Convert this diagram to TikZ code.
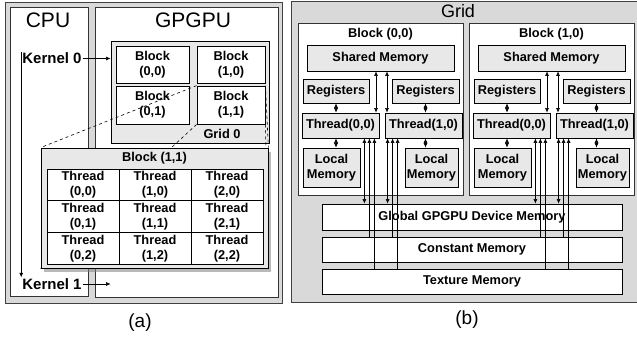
\documentclass[tikz,border=0pt]{standalone}
\usepackage{fontspec}
\setmainfont{Liberation Sans}
\usetikzlibrary{arrows.meta,shadows}
\pgfdeclarelayer{front}
\pgfsetlayers{main,front}

\begin{document}
\begin{tikzpicture}[x=1pt,y=-1pt]

% definitions
\tikzstyle{panel} = [rectangle, inner sep=0pt, draw=black!75, line width=0.8pt, fill=gray!30]

\tikzstyle{unit} = [rectangle, inner sep=0pt, draw=black!80, line width=0.8pt, fill=white]

\tikzstyle{block} = [rectangle, inner sep=0pt, draw=black, line width=0.8pt, fill=white, align=center, font=\bfseries\fontsize{12.8}{15}\selectfont]

\tikzstyle{memory} = [rectangle, inner sep=0pt, draw=black, line width=0.8pt, fill=gray!18, align=center, font=\bfseries\fontsize{12.8}{14.5}\selectfont]

\tikzstyle{label} = [inner sep=1pt, font=\bfseries\fontsize{12.8}{15}\selectfont]

\tikzstyle{kernel} = [inner sep=1pt, font=\bfseries\fontsize{15}{18}\selectfont]

\tikzstyle{title} = [inner sep=1pt, font=\fontsize{21}{25}\selectfont]

\tikzstyle{arrow} = [->, >={Latex[length=4.5pt,width=4pt]}, line width=0.6pt]

\tikzstyle{biarrow} = [<->, >={Latex[length=4.5pt,width=4pt]}, line width=0.6pt]

\tikzstyle{link} = [dashed, line width=0.6pt]

\useasboundingbox (0,0) rectangle (637,339);

% (a) the host and the device
\node (pa) [panel, minimum width=277pt, minimum height=301pt] at (143.5,152.5) {};
\node (cpu) [unit, minimum width=78pt, minimum height=289pt] at (49,151.5) {};
\node (gpu) [unit, minimum width=183pt, minimum height=290pt] at (186.5,152) {};
\node (cpulab) [title] at (48,20) {CPU};
\node (gpulab) [title] at (193,20) {GPGPU};

\node (k0) [kernel] at (52,58.5) {Kernel 0};
\node (k1) [kernel] at (52,284) {Kernel 1};

\node (grid0) [memory, minimum width=158pt, minimum height=102pt] at (190,92) {};
\node (b00) [block, minimum width=73pt, minimum height=37pt] at (152.5,64.5) {Block\\(0,0)};
\node (b10) [block, minimum width=68pt, minimum height=37pt] at (231,64.5) {Block\\(1,0)};
\node (b01) [block, minimum width=73pt, minimum height=38pt] at (152.5,105) {Block\\(0,1)};
\node (b11) [block, minimum width=68pt, minimum height=38pt] at (231,105) {Block\\(1,1)};
\node (g0lab) [label] at (222,134) {Grid 0};

\begin{pgfonlayer}{front}
\node (big) [memory, minimum width=227pt, minimum height=120pt, drop shadow={shadow xshift=3pt, shadow yshift=-4pt, opacity=0.55}] at (154.5,208) {};
\node (biglab) [label] at (154.5,158) {Block (1,1)};
\foreach \i in {0,1,2}
  \foreach \j in {0,1,2}
    \node (t\i\j) [block, minimum width=72pt, minimum height=31.7pt] at ({83+72*\i},{184.8+31.7*\j}) {Thread\\(\i,\j)};
\end{pgfonlayer}

\draw [link] (b11.north west) -- (big.north west);
\draw [link] (b11.south west) -- (big.south west);
\draw [link] (b11.north east) -- (big.north east);
\draw [link] (b11.south east) -- (big.south east);

\draw [arrow] (k0.east) -- (k0.east -| grid0.west);
\draw [arrow] (k1.east) -- (k1.east -| grid0.west);
\draw [arrow] (k0.north west) -- (k0.north west |- k1.north);

\node (capa) [title, font=\fontsize{19}{23}\selectfont] at (140,323) {(a)};

% (b) the memory hierarchy
\node (pb) [panel, minimum width=348pt, minimum height=301pt] at (465,152) {};
\node (gridlab) [title, font=\fontsize{18}{22}\selectfont] at (458,11.5) {Grid};

\node (glob) [unit, draw=black, minimum width=300pt, minimum height=26pt, font=\bfseries\fontsize{12.8}{15}\selectfont] at (472,217) {Global GPGPU Device Memory};
\node (cons) [unit, draw=black, minimum width=300pt, minimum height=25pt, font=\bfseries\fontsize{12.8}{15}\selectfont] at (472,249.5) {Constant Memory};
\node (tex) [unit, draw=black, minimum width=300pt, minimum height=25pt, font=\bfseries\fontsize{12.8}{15}\selectfont] at (472,281.5) {Texture Memory};

\foreach \bi/\dx in {0/0,1/171} {
  \node (blk\bi) [unit, minimum width=165pt, minimum height=172pt] at ({380.5+\dx},109) {};
  \node (blklab\bi) [label] at ({380.5+\dx},34) {Block (\bi,0)};
  \node (shm\bi) [memory, minimum width=147pt, minimum height=26pt] at ({380.5+\dx},58) {Shared Memory};
  \node (regl\bi) [memory, minimum width=66pt, minimum height=24pt] at ({336+\dx},91) {Registers};
  \node (regr\bi) [memory, minimum width=67pt, minimum height=24pt] at ({425.5+\dx},91) {Registers};
  \node (thl\bi) [memory, minimum width=77pt, minimum height=25pt] at ({340.5+\dx},125.5) {Thread(0,0)};
  \node (thr\bi) [memory, minimum width=77pt, minimum height=25pt] at ({423.5+\dx},125.5) {Thread(1,0)};
  \node (locl\bi) [memory, minimum width=57pt, minimum height=39pt] at ({331.5+\dx},167.5) {Local\\Memory};
  \node (locr\bi) [memory, minimum width=53pt, minimum height=39pt] at ({431.5+\dx},167.5) {Local\\Memory};

  \draw [biarrow] (regl\bi.south) -- (regl\bi.south |- thl\bi.north);
  \draw [biarrow] (regl\bi.south |- thl\bi.south) -- (regl\bi.south |- locl\bi.north);
  \draw [biarrow] (regr\bi.south) -- (regr\bi.south |- thr\bi.north);
  \draw [biarrow] (regr\bi.south |- thr\bi.south) -- (regr\bi.south |- locr\bi.north);

  \draw [biarrow] ([xshift=-4.5pt]shm\bi.south) -- ([xshift=-4.5pt]shm\bi.south |- thl\bi.north);
  \draw [biarrow] ([xshift=6.5pt]shm\bi.south) -- ([xshift=6.5pt]shm\bi.south |- thr\bi.north);

  \draw [biarrow] ([xshift=-15pt]thl\bi.south east) -- ([xshift=-15pt]thl\bi.south east |- glob.north);
  \draw [arrow] ([xshift=-10pt]thl\bi.south east |- cons.north) -- ([xshift=-10pt]thl\bi.south east);
  \draw [arrow] ([xshift=-5pt]thl\bi.south east |- tex.north) -- ([xshift=-5pt]thl\bi.south east);
  \draw [biarrow] ([xshift=3pt]thr\bi.south west) -- ([xshift=3pt]thr\bi.south west |- glob.north);
  \draw [arrow] ([xshift=8pt]thr\bi.south west |- cons.north) -- ([xshift=8pt]thr\bi.south west);
  \draw [arrow] ([xshift=13pt]thr\bi.south west |- tex.north) -- ([xshift=13pt]thr\bi.south west);
}

\node (capb) [title, font=\fontsize{19}{23}\selectfont] at (467,320) {(b)};

\end{tikzpicture}
\end{document}
